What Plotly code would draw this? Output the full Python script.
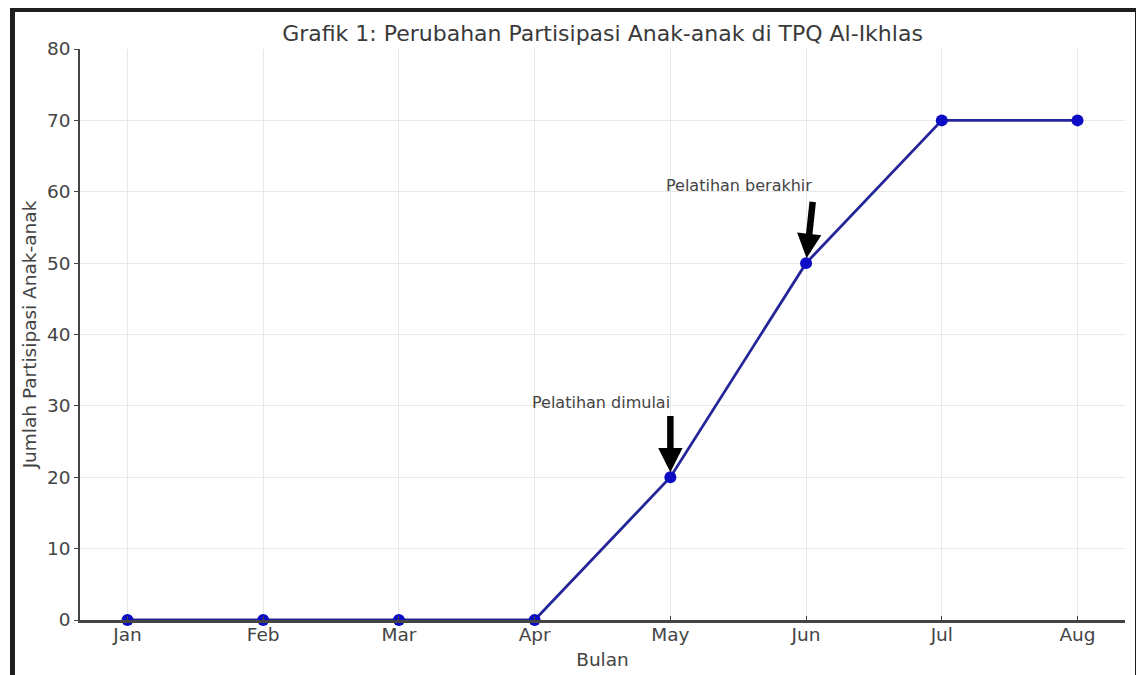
import plotly.graph_objects as go

months = ["Jan", "Feb", "Mar", "Apr", "May", "Jun", "Jul", "Aug"]
participants = [0, 0, 0, 0, 20, 50, 70, 70]
y_ticks = [0, 10, 20, 30, 40, 50, 60, 70, 80]

notes = ["Pelatihan dimulai", "Pelatihan berakhir"]
note_month_idx = [4, 5]
note_text_x = [4.01, 5.06]
note_text_y = [30.5, 60.9]
arrow_tail_x = [4.0, 5.05]
arrow_tail_y = [28.8, 58.8]

x_idx = list(range(len(months)))

# page body has an 8px margin; figure sized to fit the 1144x675 window
OFF = 8
W, H = 1144 - OFF, 675 - OFF
L, R, T, B = 72, 19, 41, 55
pw, ph = W - L - R, H - T - B

fig = go.Figure()
fig.add_trace(go.Scatter(
    x=x_idx, y=participants, mode="lines+markers",
    line=dict(color="#25259a", width=2.8),
    marker=dict(color="#0c0cc4", size=12),
    cliponaxis=False, showlegend=False,
))

font_family = "DejaVu Sans"
annotations = []
for i, t in enumerate(notes):
    annotations.append(dict(
        x=note_text_x[i], y=note_text_y[i], xref="x", yref="y",
        text=t, showarrow=False, xanchor="right", yanchor="middle",
        font=dict(family=font_family, size=16, color="#444444"),
    ))
    mi = note_month_idx[i]
    annotations.append(dict(
        x=mi, y=participants[mi], xref="x", yref="y",
        ax=arrow_tail_x[i], ay=arrow_tail_y[i], axref="x", ayref="y",
        text="", showarrow=True, arrowhead=2, arrowsize=0.75,
        arrowwidth=6.5, arrowcolor="black", standoff=5,
    ))


def sx(p):
    """screen px -> paper x"""
    return (p - OFF - L) / pw


def sy(p):
    """screen px -> paper y"""
    return (H - B - (p - OFF)) / ph


frame_color = "#1e1e1e"
for x0, x1, y0, y1 in [(10, 15, 7, 700), (10, 1144, 7, 12), (1135, 1160, 7, 700)]:
    fig.add_shape(type="rect", xref="paper", yref="paper",
                  x0=sx(x0), x1=sx(x1), y0=sy(y1), y1=sy(y0),
                  line=dict(width=0), fillcolor=frame_color, layer="above")

fig.update_layout(
    width=W, height=H,
    margin=dict(l=L, r=R, t=T, b=B, autoexpand=False),
    paper_bgcolor="white", plot_bgcolor="white",
    font=dict(family=font_family, color="#444444"),
    title=dict(text="Grafik 1: Perubahan Partisipasi Anak-anak di TPQ Al-Ikhlas",
               x=(L + pw / 2) / W, xanchor="center", y=1 - 25 / H, yanchor="middle",
               font=dict(family=font_family, size=22, color="#3a3a3a")),
    annotations=annotations,
    xaxis=dict(
        range=[-0.35, 7.35], tickmode="array", tickvals=x_idx, ticktext=months,
        showgrid=True, gridcolor="#e8e8e8", gridwidth=1, zeroline=False,
        showline=True, linecolor="#444444", linewidth=2.5,
        ticks="inside", ticklen=4, tickcolor="#444444",
        ticklabelstandoff=-4,
        tickfont=dict(family=font_family, size=18.5, color="#444444"),
        title=dict(text="Bulan", standoff=10,
                   font=dict(family=font_family, size=18.5, color="#444444")),
        automargin=False, fixedrange=True,
    ),
    yaxis=dict(
        range=[0, 80], tickmode="array", tickvals=y_ticks,
        showgrid=True, gridcolor="#e8e8e8", gridwidth=1, zeroline=False,
        showline=True, linecolor="#444444", linewidth=1.5,
        ticks="outside", ticklen=4, tickcolor="#444444",
        tickfont=dict(family=font_family, size=18.5, color="#444444"),
        title=dict(text="Jumlah Partisipasi Anak-anak", standoff=6,
                   font=dict(family=font_family, size=18.5, color="#444444")),
        automargin=False, fixedrange=True,
    ),
)

fig.write_html("out.html")
